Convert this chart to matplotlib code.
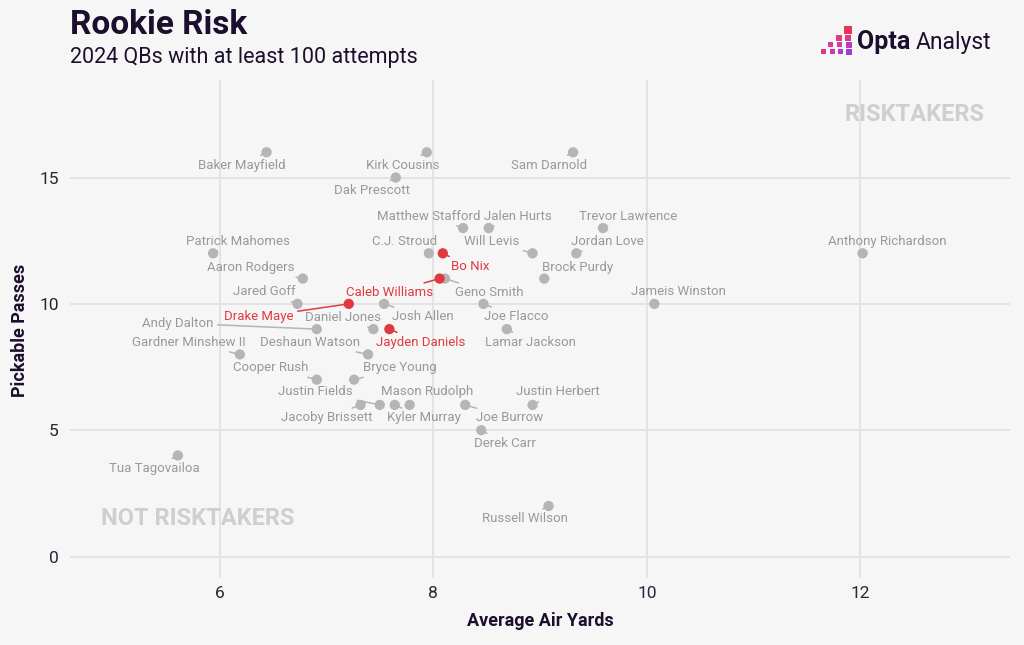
import matplotlib.pyplot as plt
from matplotlib.patches import Rectangle

# data
players = [
    "Baker Mayfield", "Kirk Cousins", "Sam Darnold", "Dak Prescott",
    "Matthew Stafford", "Jalen Hurts", "Trevor Lawrence", "Patrick Mahomes",
    "C.J. Stroud", "Bo Nix", "Will Levis", "Jordan Love", "Anthony Richardson",
    "Aaron Rodgers", "Caleb Williams", "Geno Smith", "Brock Purdy",
    "Jared Goff", "Drake Maye", "Josh Allen", "Joe Flacco", "Jameis Winston",
    "Andy Dalton", "Daniel Jones", "Jayden Daniels", "Lamar Jackson",
    "Gardner Minshew II", "Deshaun Watson", "Cooper Rush", "Bryce Young",
    "Justin Fields", "Jacoby Brissett", "Kyler Murray", "Mason Rudolph",
    "Joe Burrow", "Justin Herbert", "Derek Carr", "Tua Tagovailoa",
    "Russell Wilson",
]
air_yards = [
    6.44, 7.94, 9.31, 7.65,
    8.28, 8.52, 9.59, 5.94,
    7.96, 8.09, 8.93, 9.34, 12.02,
    6.78, 8.06, 8.11, 9.04,
    6.73, 7.21, 7.54, 8.47, 10.07,
    6.91, 7.44, 7.59, 8.69,
    6.19, 7.39, 6.91, 7.26,
    7.50, 7.32, 7.64, 7.78,
    8.30, 8.93, 8.45, 5.61,
    9.08,
]
pickable = [
    16, 16, 16, 15,
    13, 13, 13, 12,
    12, 12, 12, 12, 12,
    11, 11, 11, 11,
    10, 10, 10, 10, 10,
    9, 9, 9, 9,
    8, 8, 7, 7,
    6, 6, 6, 6,
    6, 6, 5, 4,
    2,
]
rookies = ["Bo Nix", "Caleb Williams", "Drake Maye", "Jayden Daniels"]

# label offsets in pixels (layout only)
label_offsets = {
    "Baker Mayfield": (-25, -13), "Kirk Cousins": (-24, -13),
    "Sam Darnold": (-24, -13), "Dak Prescott": (-24, -13),
    "Matthew Stafford": (-34, 12), "Jalen Hurts": (29, 12),
    "Trevor Lawrence": (25, 12), "Patrick Mahomes": (25, 12),
    "C.J. Stroud": (-24, 12), "Bo Nix": (27, -13),
    "Will Levis": (-41, 12), "Jordan Love": (31, 12),
    "Anthony Richardson": (25, 12), "Aaron Rodgers": (-52, 11),
    "Caleb Williams": (-50, -14), "Geno Smith": (44, -14),
    "Brock Purdy": (33, 11), "Jared Goff": (-33, 12),
    "Drake Maye": (-90, -13), "Josh Allen": (39, -13),
    "Joe Flacco": (33, -13), "Jameis Winston": (24, 12),
    "Andy Dalton": (-139, 6), "Daniel Jones": (-30, 12),
    "Jayden Daniels": (31, -13), "Lamar Jackson": (24, -13),
    "Gardner Minshew II": (-51, 12), "Deshaun Watson": (-58, 12),
    "Cooper Rush": (-46, 12), "Bryce Young": (46, 12),
    "Justin Fields": (-64, 13), "Jacoby Brissett": (-34, -13),
    "Kyler Murray": (29, -13), "Mason Rudolph": (17, 13),
    "Joe Burrow": (44, -13), "Justin Herbert": (25, 13),
    "Derek Carr": (24, -13), "Tua Tagovailoa": (-24, -13),
    "Russell Wilson": (-24, -13),
}

BG = "#f6f6f6"
GREY = "#b5b5b5"
GREY_TXT = "#999999"
RED = "#e03a40"
DARK = "#1c0f2e"

plt.rcParams['font.family'] = ['Roboto', 'DejaVu Sans']

fig = plt.figure(figsize=(10.24, 6.45), dpi=100, facecolor=BG)
W, H = 1024, 645
ax = fig.add_axes([70 / W, 1 - 578 / H, 940 / W, 498 / H])
ax.set_facecolor(BG)

ax.set_xlim(4.6, 13.4)
ax.set_ylim(-0.85, 18.86)
ax.set_xticks([6, 8, 10, 12])
ax.set_yticks([0, 5, 10, 15])
ax.grid(True, color="#e2e2e2", lw=1.3)
ax.set_axisbelow(True)
for s in ax.spines.values():
    s.set_visible(False)
ax.tick_params(length=0, labelsize=12.5, labelcolor="#2a2438", pad=8)
ax.tick_params(axis='x', pad=6)

# grey first, rookies on top
order = [i for i, p in enumerate(players) if p not in rookies] + \
        [i for i, p in enumerate(players) if p in rookies]
for i in order:
    p = players[i]
    red = p in rookies
    col = RED if red else GREY
    ax.scatter(air_yards[i], pickable[i], s=55, color=col, zorder=4 if red else 3,
               edgecolors='none')
    ax.annotate(p, (air_yards[i], pickable[i]), xytext=label_offsets[p],
                textcoords='offset pixels', ha='center', va='center',
                fontsize=9.5, color=RED if red else GREY_TXT,
                arrowprops=dict(arrowstyle='-', color=col, lw=1.1,
                                shrinkA=1, shrinkB=0),
                zorder=5 if red else 2)

ax.text(0.898, 0.930, "RISKTAKERS", transform=ax.transAxes, ha='center',
        va='center', fontsize=17, fontweight='bold', color="#cfcfd3")
ax.text(0.136, 0.120, "NOT RISKTAKERS", transform=ax.transAxes, ha='center',
        va='center', fontsize=17, fontweight='bold', color="#cfcfd3")

ax.set_xlabel("Average Air Yards", fontsize=13, fontweight='bold', color=DARK,
              labelpad=8)
fig.text(20 / W, 1 - 330 / H, "Pickable Passes", rotation=90, ha='center',
         va='center', fontsize=13, fontweight='bold', color=DARK)

fig.text(70 / W, 1 - 25 / H, "Rookie Risk", fontsize=24, fontweight='bold',
         color=DARK, ha='left', va='center')
fig.text(70 / W, 1 - 57 / H, "2024 QBs with at least 100 attempts", fontsize=15.5,
         color=DARK, ha='left', va='center')

# logo
squares = [
    (844, 26, 8, "#e8345a"),
    (836, 35, 6, "#e53a78"), (845, 35, 6, "#df3a8a"),
    (828, 42, 5, "#e03b8e"), (837, 42, 5, "#cf3aa6"), (846, 42, 6, "#b93cc0"),
    (821, 49, 5, "#e0377a"), (830, 49, 5, "#c93aaa"), (838, 49, 5, "#b03dc6"),
    (846, 49, 6, "#9d3fd3"),
]
for x0, y0, sz, c in squares:
    fig.add_artist(Rectangle((x0 / W, 1 - (y0 + sz) / H), sz / W, sz / H,
                             transform=fig.transFigure, color=c, lw=0))
fig.text(857 / W, 1 - 42 / H, "Opta", fontsize=18, fontweight='bold',
         color=DARK, ha='left', va='center')
fig.text(916 / W, 1 - 42 / H, "Analyst", fontsize=16.5, color=DARK,
         ha='left', va='center')

fig.savefig("out.png", dpi=100, facecolor=BG)
